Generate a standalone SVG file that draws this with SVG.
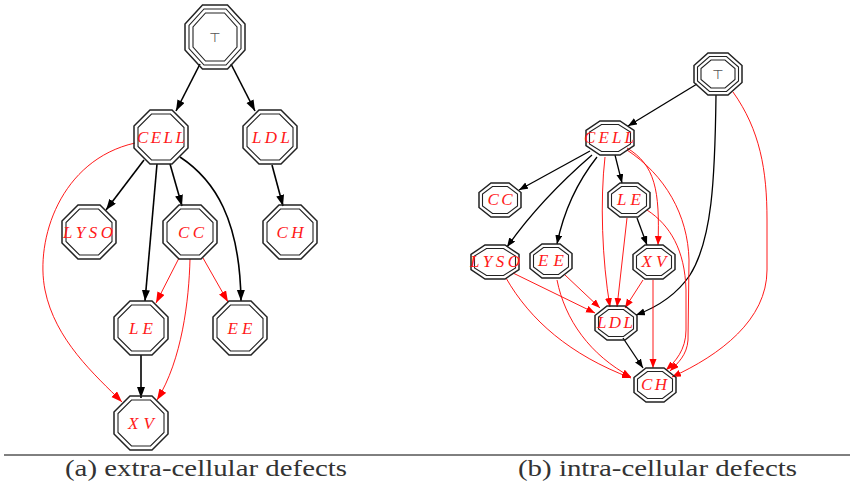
<svg xmlns="http://www.w3.org/2000/svg" xmlns:xlink="http://www.w3.org/1999/xlink" width="850" height="484" viewBox="0 0 850 484">
<style>
.o1{fill:none;stroke:#222;stroke-width:1.5}
.o2{fill:none;stroke:#222;stroke-width:1.1}
.lbl{font-family:"Liberation Serif","DejaVu Serif",serif;font-style:italic;font-size:17px;fill:#ff1a1a;text-anchor:middle}
.top{font-family:"DejaVu Sans",sans-serif;font-size:13px;fill:#555;text-anchor:middle}
.eb{fill:none;stroke:#000;stroke-width:1.6}
.er{fill:none;stroke:#ff0000;stroke-width:0.9}
.ebr{fill:none;stroke:#000;stroke-width:1.3}
.cap{font-family:"Liberation Serif","DejaVu Serif",serif;font-size:23px;fill:#333}
</style>
<defs>
<g id="oL">
<polygon class="o1" points="-11,-27 11,-27 27,-11 27,11 11,27 -11,27 -27,11 -27,-11"/>
<polygon class="o2" points="-9.5,-23 9.5,-23 23,-9.5 23,9.5 9.5,23 -9.5,23 -23,9.5 -23,-9.5"/>
</g>
<g id="oT1">
<polygon class="o1" points="-12.5,-32 12.5,-32 30,-13 30,13 12.5,32 -12.5,32 -30,13 -30,-13"/>
<polygon class="o2" points="-11,-28 11,-28 26,-11.5 26,11.5 11,28 -11,28 -26,11.5 -26,-11.5"/>
<polygon class="o2" points="-9.5,-24 9.5,-24 22,-10 22,10 9.5,24 -9.5,24 -22,10 -22,-10"/>
</g>
<g id="oR">
<polygon class="o1" points="-9,-17 9,-17 21,-7.5 21,7.5 9,17 -9,17 -21,7.5 -21,-7.5"/>
<polygon class="o2" points="-7.5,-13.5 7.5,-13.5 17.5,-6 17.5,6 7.5,13.5 -7.5,13.5 -17.5,6 -17.5,-6"/>
</g>
<g id="oRw">
<polygon class="o1" points="-10,-17 10,-17 24,-7.5 24,7.5 10,17 -10,17 -24,7.5 -24,-7.5"/>
<polygon class="o2" points="-8.5,-13.5 8.5,-13.5 20.5,-6 20.5,6 8.5,13.5 -8.5,13.5 -20.5,6 -20.5,-6"/>
</g>
<g id="oT2">
<polygon class="o1" points="-10,-21 10,-21 24,-8.5 24,8.5 10,21 -10,21 -24,8.5 -24,-8.5"/>
<polygon class="o2" points="-8.5,-17.5 8.5,-17.5 20.5,-7 20.5,7 8.5,17.5 -8.5,17.5 -20.5,7 -20.5,-7"/>
<polygon class="o2" points="-7,-14 7,-14 17,-5.5 17,5.5 7,14 -7,14 -17,5.5 -17,-5.5"/>
</g>
<marker id="abL" markerUnits="userSpaceOnUse" markerWidth="12" markerHeight="9" refX="11" refY="4" orient="auto"><path d="M0,0 L11,4 L0,8 z" fill="#000"/></marker>
<marker id="arL" markerUnits="userSpaceOnUse" markerWidth="12" markerHeight="9" refX="11" refY="4" orient="auto"><path d="M0,0 L11,4 L0,8 z" fill="#ff0000"/></marker>
<marker id="abR" markerUnits="userSpaceOnUse" markerWidth="10" markerHeight="8" refX="9" refY="3.5" orient="auto"><path d="M0,0 L9,3.5 L0,7 z" fill="#000"/></marker>
<marker id="arR" markerUnits="userSpaceOnUse" markerWidth="10" markerHeight="8" refX="9" refY="3.5" orient="auto"><path d="M0,0 L9,3.5 L0,7 z" fill="#ff0000"/></marker>
</defs>

<g id="connectors">
<!-- left -->
<path class="eb" marker-end="url(#abL)" d="M200,64 L176,111"/>
<path class="eb" marker-end="url(#abL)" d="M231,64 L255,111"/>
<path class="eb" marker-end="url(#abL)" d="M144,160 L106,210"/>
<path class="eb" marker-end="url(#abL)" d="M157,164 Q151,230 145,301"/>
<path class="eb" marker-end="url(#abL)" d="M170,164 L182,206"/>
<path class="eb" marker-end="url(#abL)" d="M180,157 C215,180 240,220 241,301"/>
<path class="eb" marker-end="url(#abL)" d="M272,165 L283,206"/>
<path class="eb" marker-end="url(#abL)" d="M141,355 L141,398"/>
<path class="er" marker-end="url(#arL)" d="M135,143 C60,160 35,240 45,290 C55,340 95,375 122,402"/>
<path class="er" marker-end="url(#arL)" d="M179,258 L156,303"/>
<path class="er" marker-end="url(#arL)" d="M190,259 C189,300 182,360 157,400"/>
<path class="er" marker-end="url(#arL)" d="M203,258 L228,302"/>
<!-- right -->
<path class="ebr" marker-end="url(#abR)" d="M697,84 L628,126"/>
<path class="ebr" marker-end="url(#abR)" d="M716,95 C715,180 712,240 690,275 C675,297 655,308 636,315"/>
<path class="ebr" marker-end="url(#abR)" d="M590,151 L519,190"/>
<path class="ebr" marker-end="url(#abR)" d="M592,155 Q540,200 507,247"/>
<path class="ebr" marker-end="url(#abR)" d="M597,157 Q567,195 557,244"/>
<path class="ebr" marker-end="url(#abR)" d="M615,155 L622,183"/>
<path class="ebr" marker-end="url(#abR)" d="M637,218 L647,245"/>
<path class="ebr" marker-end="url(#abR)" d="M623,338 L643,368"/>
<path class="er" marker-end="url(#arR)" d="M733,92 C760,130 767,170 767,220 L767,270 C767,320 720,355 672,377"/>
<path class="er" marker-end="url(#arR)" d="M605,157 C600,200 602,260 610,307"/>
<path class="er" marker-end="url(#arR)" d="M627,148 C655,165 660,190 658,245"/>
<path class="er" marker-end="url(#arR)" d="M627,150 C665,175 688,215 689,260 L688,340 C687,355 678,363 670,371"/>
<path class="er" marker-end="url(#arR)" d="M627,218 L617,307"/>
<path class="er" marker-end="url(#arR)" d="M647,210 C670,225 685,250 686,290 L686,330 C686,350 675,362 666,370"/>
<path class="er" marker-end="url(#arR)" d="M513,273 L595,313"/>
<path class="er" marker-end="url(#arR)" d="M565,275 L600,308"/>
<path class="er" marker-end="url(#arR)" d="M506,278 C530,320 570,355 631,378"/>
<path class="er" marker-end="url(#arR)" d="M557,280 C565,320 590,355 631,377"/>
<path class="er" marker-end="url(#arR)" d="M643,280 L625,308"/>
<path class="er" marker-end="url(#arR)" d="M653,280 L653,368"/>
</g>

<!-- left diagram nodes -->
<g id="a-top"><use href="#oT1" x="215" y="37"/><text class="top" x="215" y="42">⊤</text></g>
<g id="a-cell"><use href="#oL" x="161" y="137"/><text class="lbl" x="161" y="143" textLength="48" lengthAdjust="spacing">CELL</text></g>
<g id="a-ldl"><use href="#oL" x="270" y="137"/><text class="lbl" x="271" y="143" textLength="38" lengthAdjust="spacing">LDL</text></g>
<g id="a-lyso"><use href="#oL" x="89" y="232"/><text class="lbl" x="88" y="238" textLength="50" lengthAdjust="spacing">LYSO</text></g>
<g id="a-cc"><use href="#oL" x="190" y="232"/><text class="lbl" x="191" y="238" textLength="26" lengthAdjust="spacing">CC</text></g>
<g id="a-ch"><use href="#oL" x="290" y="232"/><text class="lbl" x="290" y="238" textLength="27" lengthAdjust="spacing">CH</text></g>
<g id="a-le"><use href="#oL" x="141" y="328"/><text class="lbl" x="141" y="334" textLength="24" lengthAdjust="spacing">LE</text></g>
<g id="a-ee"><use href="#oL" x="240" y="328"/><text class="lbl" x="240" y="334" textLength="25" lengthAdjust="spacing">EE</text></g>
<g id="a-xv"><use href="#oL" x="141" y="423"/><text class="lbl" x="141" y="429" textLength="26" lengthAdjust="spacing">XV</text></g>

<!-- right diagram nodes -->
<g id="b-top"><use href="#oT2" x="718" y="74"/><text class="top" x="718" y="79">⊤</text></g>
<g id="b-cell"><use href="#oRw" x="610" y="138"/><text class="lbl" x="609" y="143" textLength="50" lengthAdjust="spacing">CELL</text></g>
<g id="b-cc"><use href="#oR" x="500" y="200"/><text class="lbl" x="500" y="205" textLength="25" lengthAdjust="spacing">CC</text></g>
<g id="b-le"><use href="#oR" x="629" y="200"/><text class="lbl" x="629" y="205" textLength="24" lengthAdjust="spacing">LE</text></g>
<g id="b-lyso"><use href="#oRw" x="495" y="262"/><text class="lbl" x="495" y="267" textLength="50" lengthAdjust="spacing">LYSO</text></g>
<g id="b-ee"><use href="#oR" x="551" y="261"/><text class="lbl" x="551" y="266" textLength="26" lengthAdjust="spacing">EE</text></g>
<g id="b-xv"><use href="#oR" x="654" y="262"/><text class="lbl" x="654" y="267" textLength="25" lengthAdjust="spacing">XV</text></g>
<g id="b-ldl"><use href="#oR" x="616" y="323"/><text class="lbl" x="615" y="328" textLength="36" lengthAdjust="spacing">LDL</text></g>
<g id="b-ch"><use href="#oR" x="655" y="385"/><text class="lbl" x="654" y="390" textLength="26" lengthAdjust="spacing">CH</text></g>

<g id="captions">
<line x1="4" y1="455" x2="850" y2="455" stroke="#000" stroke-width="1"/>
<text class="cap" x="65" y="476" textLength="282" lengthAdjust="spacingAndGlyphs">(a) extra-cellular defects</text>
<text class="cap" x="518" y="476" textLength="279" lengthAdjust="spacingAndGlyphs">(b) intra-cellular defects</text>
</g>
</svg>
